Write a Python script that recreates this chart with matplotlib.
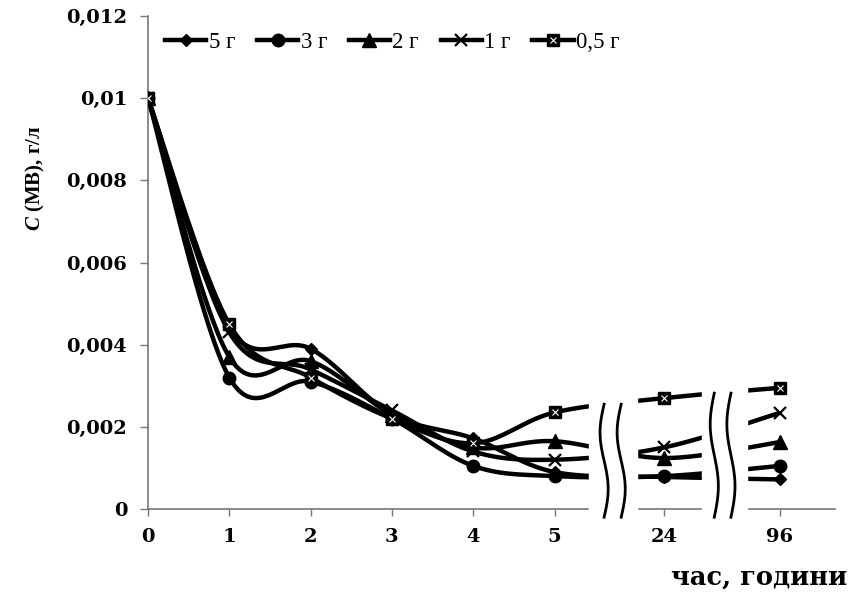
import numpy as np
import matplotlib
matplotlib.use("Agg")
import matplotlib.pyplot as plt
from matplotlib.lines import Line2D
from matplotlib.legend_handler import HandlerTuple

plt.rcParams["font.family"] = ["Liberation Serif", "DejaVu Serif"]
plt.rcParams["mathtext.fontset"] = "custom"
plt.rcParams["mathtext.it"] = "Liberation Serif:italic:bold"

# --- data ---
hours = [0, 1, 2, 3, 4, 5, 24, 96]
hour_labels = ["0", "1", "2", "3", "4", "5", "24", "96"]
c_5g = [0.01, 0.0044, 0.0039, 0.0023, 0.00172, 0.0009, 0.00078, 0.00072]
c_3g = [0.01, 0.0032, 0.0031, 0.0022, 0.00105, 0.0008, 0.0008, 0.00105]
c_2g = [0.01, 0.0037, 0.0036, 0.0023, 0.0015, 0.00165, 0.00124, 0.00163]
c_1g = [0.01, 0.0043, 0.0034, 0.0024, 0.0014, 0.0012, 0.0015, 0.00234]
c_05g = [0.01, 0.0045, 0.0032, 0.0022, 0.0016, 0.00235, 0.0027, 0.00295]
labels = ["5 г", "3 г", "2 г", "1 г", "0,5 г"]

AXIS_FONT = "DejaVu Serif"


def map_hour(h):
    """Broken x scale: 0..5 linear, then 24 and 96 squeezed in after breaks."""
    if h <= 5:
        return float(h)
    return {24: 6.35, 96: 7.77}[h]


def smooth(xs, ys, n=40):
    """Excel-style smoothed line (bezier with 1/6 neighbour control points)."""
    px = np.concatenate([[xs[0]], xs, [xs[-1]]])
    py = np.concatenate([[ys[0]], ys, [ys[-1]]])
    out_x, out_y = [], []
    t = np.linspace(0, 1, n)
    for i in range(1, len(px) - 2):
        x0, x1, x2, x3 = px[i - 1], px[i], px[i + 1], px[i + 2]
        y0, y1, y2, y3 = py[i - 1], py[i], py[i + 1], py[i + 2]
        c1x, c1y = x1 + (x2 - x0) / 6, y1 + (y2 - y0) / 6
        c2x, c2y = x2 - (x3 - x1) / 6, y2 - (y3 - y1) / 6
        bx = (1 - t) ** 3 * x1 + 3 * (1 - t) ** 2 * t * c1x + 3 * (1 - t) * t ** 2 * c2x + t ** 3 * x2
        by = (1 - t) ** 3 * y1 + 3 * (1 - t) ** 2 * t * c1y + 3 * (1 - t) * t ** 2 * c2y + t ** 3 * y2
        out_x.extend(bx)
        out_y.extend(by)
    return np.array(out_x), np.array(out_y)


fig = plt.figure(figsize=(8.49, 5.93), dpi=100)
ax = fig.add_axes([148 / 849, 1 - 509 / 593, (835 - 148) / 849, (509 - 16) / 593])

xs = np.array([map_hour(h) for h in hours])
series = [c_5g, c_3g, c_2g, c_1g, c_05g]
markers = [("D", 6.5), ("o", 9), ("^", 9.5), ("x", 9), ("s", 9)]
handles = []
for vals, (m, ms) in zip(series, markers):
    sx, sy = smooth(xs, np.array(vals))
    ax.plot(sx, sy, color="black", lw=3.2, solid_capstyle="butt", zorder=3)
    mew = 1.6 if m == "x" else 1
    ax.plot(xs, vals, ls="none", marker=m, ms=ms, color="black", mew=mew, zorder=4)
    h = Line2D([], [], color="black", lw=3.2, marker=m, ms=ms, mew=mew)
    if m == "s":
        ax.plot(xs, vals, ls="none", marker="x", ms=5, color="white", mew=0.8, zorder=4.5)
        h = (h, Line2D([], [], ls="none", marker="x", ms=5, color="white", mew=0.8))
    handles.append(h)

ax.set_xlim(0, 8.45)
ax.set_ylim(0, 0.012)
ax.set_yticks(np.arange(0, 0.0121, 0.002))
ax.set_yticklabels(["0", "0,002", "0,004", "0,006", "0,008", "0,01", "0,012"])
ax.set_xticks(xs)
ax.set_xticklabels(hour_labels)
for lab in ax.get_xticklabels() + ax.get_yticklabels():
    lab.set_family(AXIS_FONT)
    lab.set_fontweight("bold")
    lab.set_fontsize(14)
ax.tick_params(axis="y", length=6, width=1, pad=9, color="#777777")
ax.tick_params(axis="x", length=5, width=1, pad=9, color="#777777")
for s in ["top", "right"]:
    ax.spines[s].set_visible(False)
for s in ["left", "bottom"]:
    ax.spines[s].set_color("#777777")
    ax.spines[s].set_linewidth(1.2)

# axis breaks: white gaps plus double wavy marks
for g0, g1, w0, w1, top in [(5.43, 6.02, 5.61, 5.82, 0.00255), (6.82, 7.37, 6.965, 7.17, 0.00282)]:
    ax.axvspan(g0, g1, ymin=-0.015, ymax=1, color="white", zorder=5, clip_on=False)
    s = np.linspace(0, 1, 60)
    wy = top - s * (top + 0.0002)
    for wx in (w0, w1):
        ax.plot(wx - 0.05 * np.sin(2 * np.pi * s), wy, color="black", lw=2, zorder=6, clip_on=False)

leg = ax.legend(handles, labels, loc="upper left", ncol=5, frameon=False,
                bbox_to_anchor=(-0.005, 1.01), handlelength=1.8, handletextpad=0.1,
                columnspacing=0.95, prop={"size": 16.5},
                handler_map={tuple: HandlerTuple(ndivide=1)})

fig.text(35 / 849, 1 - 178 / 593, r"$C$ (MB), г/л", rotation=90, ha="center", va="center",
         fontsize=15, fontweight="bold")
fig.text(847 / 849, 1 - 577 / 593, "час, години", ha="right", va="center",
         fontsize=18.5, fontweight="bold", family=AXIS_FONT)

fig.savefig("out.png", dpi=100)
